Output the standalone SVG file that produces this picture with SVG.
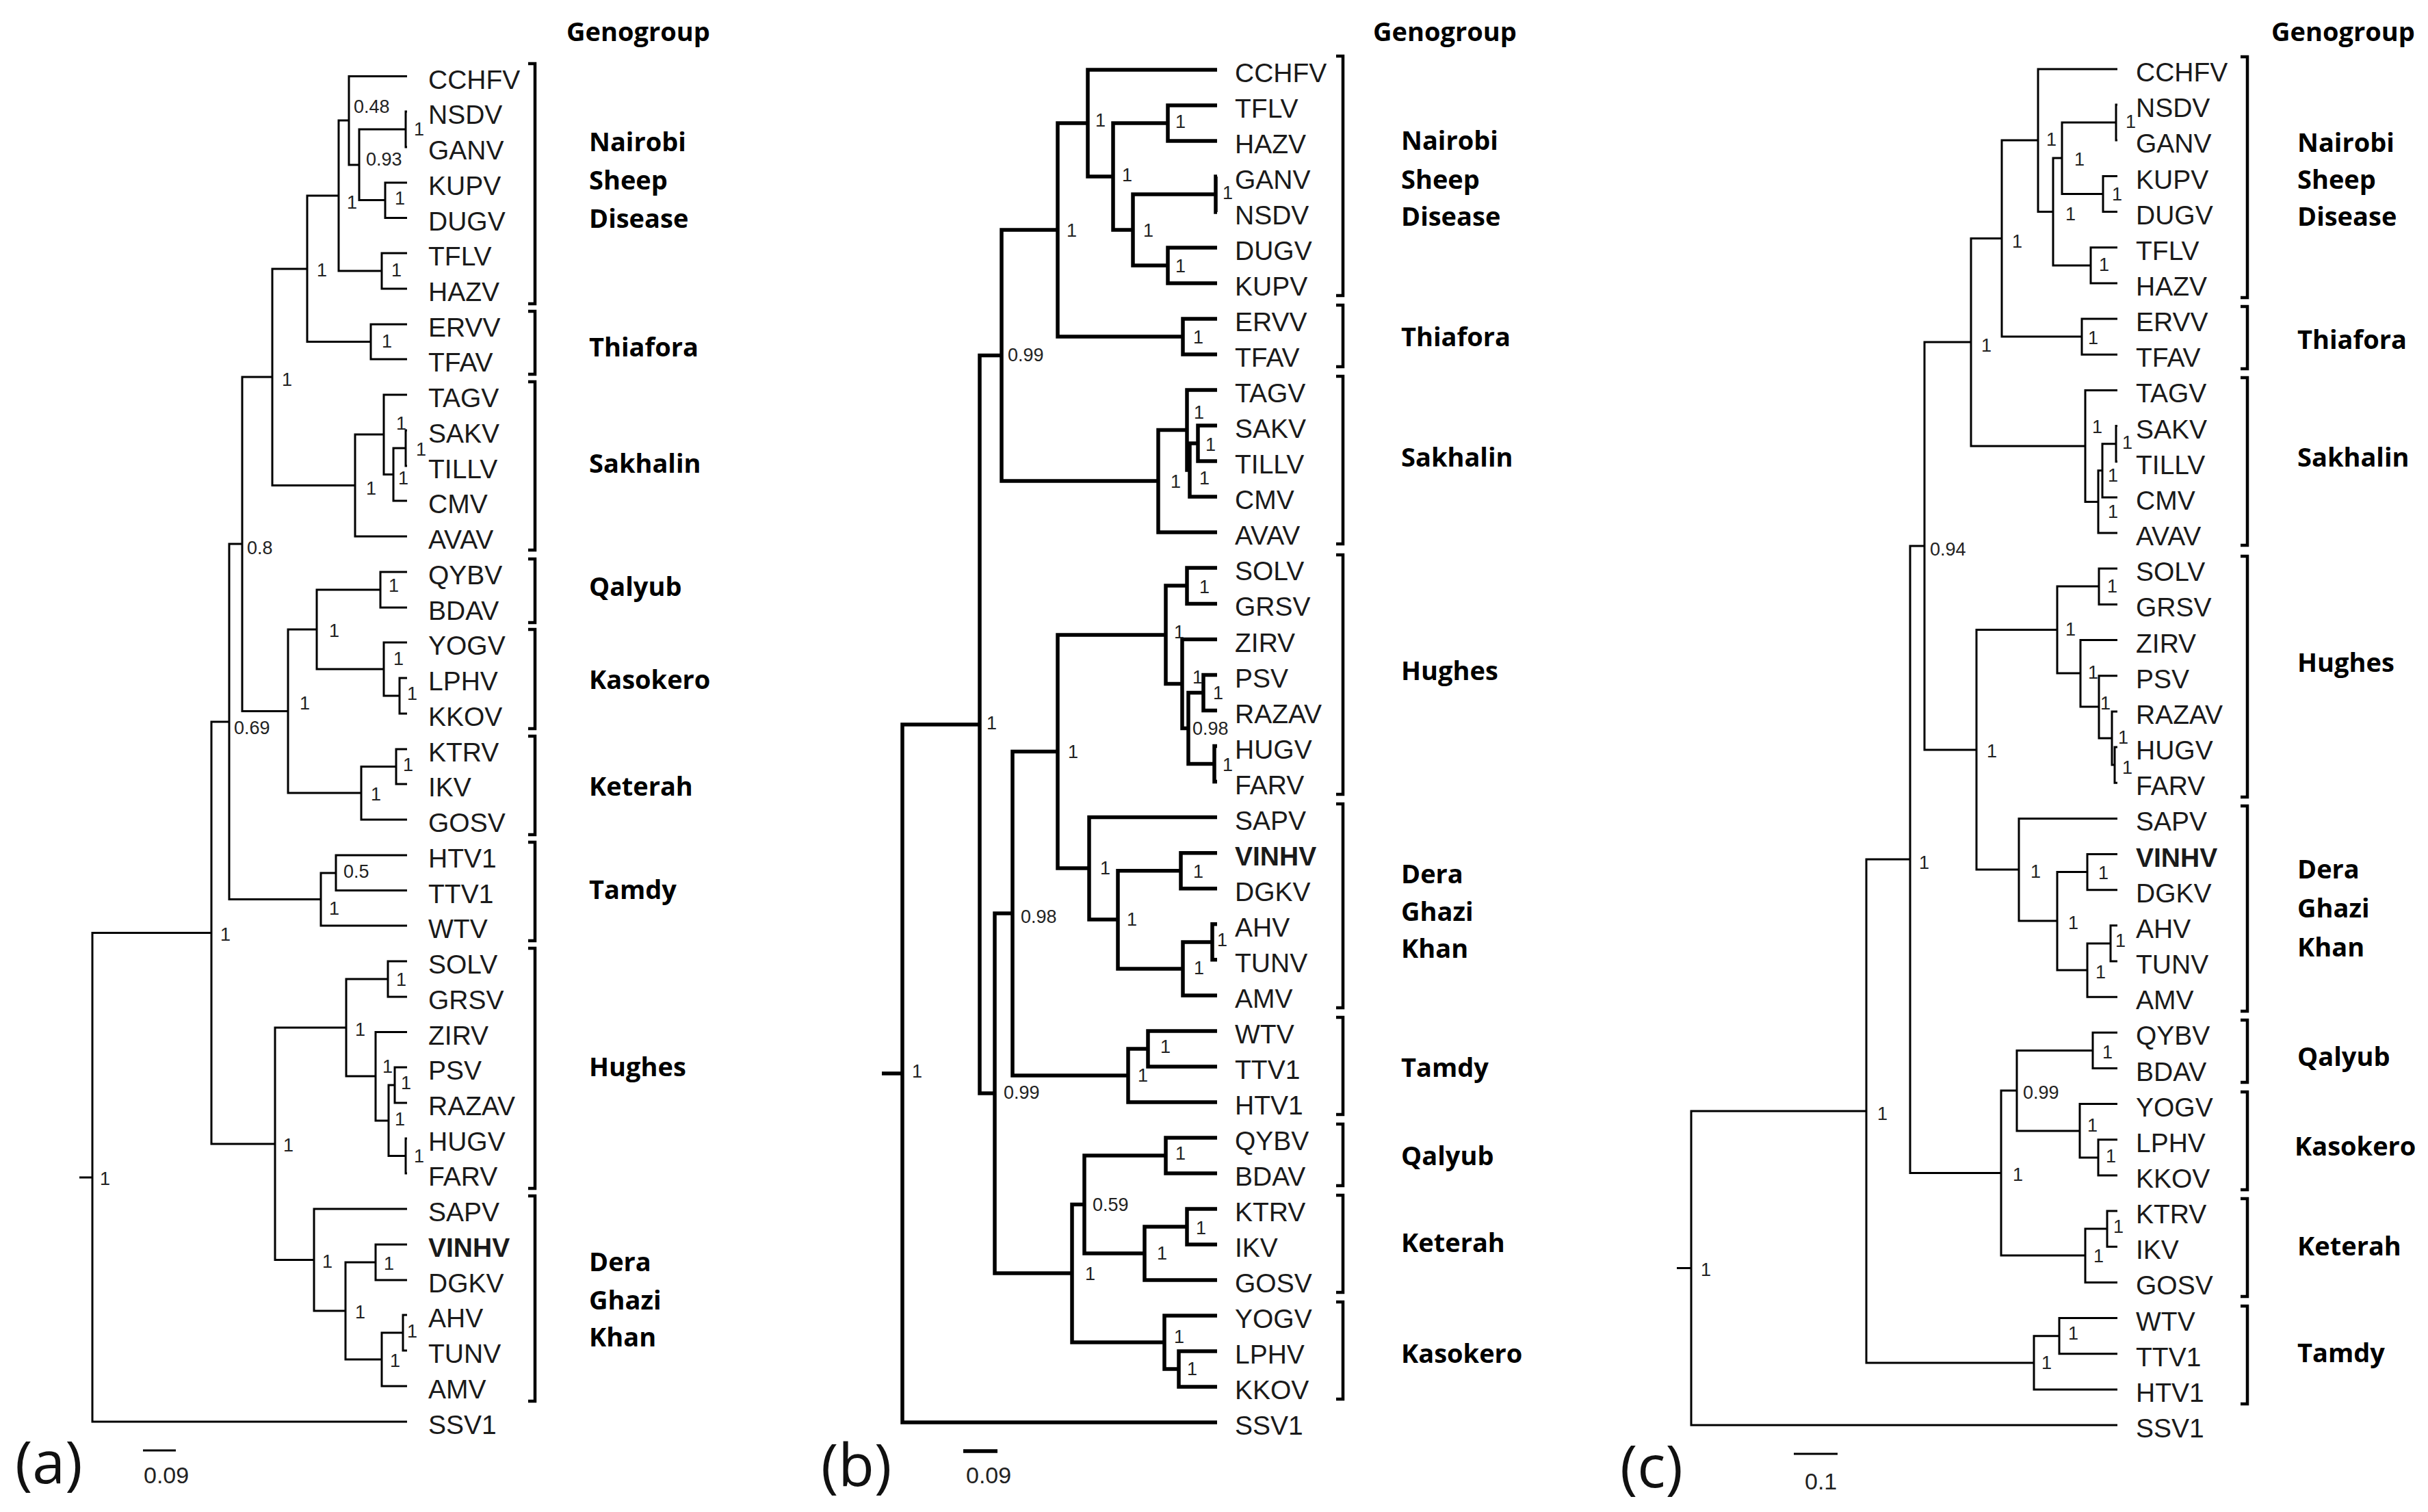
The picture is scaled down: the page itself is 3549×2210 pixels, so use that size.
<svg xmlns="http://www.w3.org/2000/svg" width="3549" height="2210" viewBox="0 0 3549 2210">
<style>
.tx{font-family:"Liberation Sans",Arial,sans-serif;font-size:39px;fill:#1a1a1a}
.bd{font-weight:bold}
.nl{font-family:"Liberation Sans",Arial,sans-serif;font-size:27px;fill:#222}
.gg{font-family:"Open Sans","Liberation Sans",sans-serif;font-weight:700;font-size:38px;fill:#000}
.pl{font-family:"Open Sans","Liberation Sans",sans-serif;font-size:86px;fill:#111}
.sc{font-family:"Liberation Sans",Arial,sans-serif;font-size:34px;fill:#222}
.br{fill:none;stroke:#000;stroke-width:4.5}
.t1{fill:none;stroke:#000;stroke-width:3}
.t2{fill:none;stroke:#000;stroke-width:5.5}
</style>
<rect width="3549" height="2210" fill="#fff"/>

<!-- ============ PANEL A ============ -->
<g id="connectors-a">
<path class="t1" d="M309,1363.5H135V2078H595M116,1721H135
M335,1055H309V1672H402
M354,795H335V1314.5H469
M398,551H354V1039.5H421
M449,393H398V709.5H519
M495,286H449V499.5H542
M510,176H495V396H558
M595,111.5H510V241H525
M593,189H525V292.5H563
M595,163H593V215H595
M595,267H563V318.5H595
M595,370H558V422H595
M595,474H542V525H595
M561,635H519V784H595
M595,577H561V693.5H575
M593,655H575V732H595
M595,629H593V681H595
M463,920H421V1159H528
M556,862H463V978H561
M595,836H556V888H595
M595,939H561V1017H584
M595,991H584V1043H595
M579,1120.5H528V1198H595
M595,1095H579V1146H595
M491,1276H469V1353H595
M595,1250H491V1301.5H595
M506,1502H402V1841.5H459
M567,1431H506V1573H549
M595,1405H567V1457H595
M595,1508.5H549V1638H568
M577,1586H568V1689.5H593
M595,1560H577V1612H595
M595,1664H593V1715H595
M595,1767H459V1916H505
M549,1845H505V1987H558
M595,1819H549V1871H595
M589,1948H558V2026H595
M595,1922H589V1974H595"/>
</g>
<g id="support-a" class="nl">
<text x="605" y="198">1</text><text x="577" y="299">1</text><text x="535" y="242">0.93</text><text x="517" y="165">0.48</text>
<text x="572" y="404">1</text><text x="507" y="305">1</text><text x="558" y="508">1</text><text x="463" y="404">1</text>
<text x="579" y="628">1</text><text x="608" y="666">1</text><text x="582" y="708">1</text><text x="535" y="723">1</text>
<text x="412" y="564">1</text><text x="568" y="865">1</text><text x="575" y="972">1</text><text x="595" y="1023">1</text>
<text x="481" y="931">1</text><text x="438" y="1037">1</text><text x="589" y="1127">1</text><text x="542" y="1170">1</text>
<text x="502" y="1283">0.5</text><text x="481" y="1337">1</text><text x="361" y="810">0.8</text><text x="342" y="1073">0.69</text>
<text x="322" y="1375">1</text><text x="579" y="1441">1</text><text x="519" y="1514">1</text><text x="559" y="1568">1</text>
<text x="586" y="1592">1</text><text x="577" y="1645">1</text><text x="605" y="1699">1</text><text x="414" y="1683">1</text>
<text x="471" y="1853">1</text><text x="561" y="1856">1</text><text x="519" y="1927">1</text><text x="595" y="1955">1</text>
<text x="570" y="1998">1</text><text x="146" y="1732">1</text>
</g>
<g id="taxa-a" class="tx">
<text x="626" y="129.5">CCHFV</text><text x="626" y="181">NSDV</text><text x="626" y="233">GANV</text><text x="626" y="285">KUPV</text>
<text x="626" y="336.5">DUGV</text><text x="626" y="388">TFLV</text><text x="626" y="440">HAZV</text><text x="626" y="492">ERVV</text>
<text x="626" y="543">TFAV</text><text x="626" y="595">TAGV</text><text x="626" y="647">SAKV</text><text x="626" y="699">TILLV</text>
<text x="626" y="750">CMV</text><text x="626" y="802">AVAV</text><text x="626" y="854">QYBV</text><text x="626" y="906">BDAV</text>
<text x="626" y="957">YOGV</text><text x="626" y="1009">LPHV</text><text x="626" y="1061">KKOV</text><text x="626" y="1113">KTRV</text>
<text x="626" y="1164">IKV</text><text x="626" y="1216">GOSV</text><text x="626" y="1268">HTV1</text><text x="626" y="1319.5">TTV1</text>
<text x="626" y="1371">WTV</text><text x="626" y="1423">SOLV</text><text x="626" y="1475">GRSV</text><text x="626" y="1526.5">ZIRV</text>
<text x="626" y="1578">PSV</text><text x="626" y="1630">RAZAV</text><text x="626" y="1682">HUGV</text><text x="626" y="1733">FARV</text>
<text x="626" y="1785">SAPV</text><text x="626" y="1837" class="bd">VINHV</text><text x="626" y="1889">DGKV</text><text x="626" y="1940">AHV</text>
<text x="626" y="1992">TUNV</text><text x="626" y="2044">AMV</text><text x="626" y="2096">SSV1</text>
</g>
<g id="groups-a">
<text class="gg" x="828" y="60">Genogroup</text>
<g id="a-nsd"><path class="br" d="M772,93H782V444H772"/><text class="gg" x="861" y="221">Nairobi</text><text class="gg" x="861" y="277">Sheep</text><text class="gg" x="861" y="333">Disease</text></g>
<g id="a-thi"><path class="br" d="M772,455H782V547H772"/><text class="gg" x="861" y="521">Thiafora</text></g>
<g id="a-sak"><path class="br" d="M772,558H782V804H772"/><text class="gg" x="861" y="691">Sakhalin</text></g>
<g id="a-qal"><path class="br" d="M772,817H782V910H772"/><text class="gg" x="861" y="871">Qalyub</text></g>
<g id="a-kas"><path class="br" d="M772,920H782V1065H772"/><text class="gg" x="861" y="1007">Kasokero</text></g>
<g id="a-ket"><path class="br" d="M772,1076H782V1220H772"/><text class="gg" x="861" y="1163">Keterah</text></g>
<g id="a-tam"><path class="br" d="M772,1231H782V1375H772"/><text class="gg" x="861" y="1314">Tamdy</text></g>
<g id="a-hug"><path class="br" d="M772,1386H782V1737H772"/><text class="gg" x="861" y="1573">Hughes</text></g>
<g id="a-dgk"><path class="br" d="M772,1748H782V2048H772"/><text class="gg" x="861" y="1858">Dera</text><text class="gg" x="861" y="1914">Ghazi</text><text class="gg" x="861" y="1968">Khan</text></g>
</g>
<g id="scale-a"><path class="t1" d="M209,2120H257"/><text class="sc" x="210" y="2168">0.09</text></g>
<text class="pl" x="22" y="2168">(a)</text>

<!-- ============ PANEL B ============ -->
<g id="connectors-b">
<path class="t2" d="M1432,1059H1319V2079H1779M1289,1569H1319
M1464,519.5H1432V1598H1454
M1546,336H1464V703H1693
M1590,180H1546V492H1729
M1779,102H1590V258H1627
M1707,180H1627V336H1656
M1779,154H1707V206H1779
M1777,284H1656V388H1707
M1779,258H1777V310H1779
M1779,362H1707V414H1779
M1779,466H1729V518H1779
M1735,628.5H1693V778H1779
M1779,570H1735V687H1739
M1751,648H1739V726H1779
M1779,622H1751V674H1779
M1480,1335H1454V1861H1567
M1546,1098.5H1480V1572H1649
M1704,928H1546V1269H1592
M1735,856H1704V999.5H1728
M1779,830H1735V882.5H1779
M1779,934.5H1728V1064.5H1737
M1759,1012.5H1737V1116.6H1775
M1779,986.5H1759V1038.5H1779
M1779,1090.6H1775V1142.6H1779
M1779,1194.6H1592V1344H1634
M1726,1272.7H1634V1416H1729
M1779,1246.7H1726V1298.7H1779
M1772,1377H1729V1455H1779
M1779,1350.7H1772V1402.8H1779
M1678,1533H1649V1611H1779
M1779,1507H1678V1559H1779
M1585,1760.5H1567V1962H1702
M1704,1689H1585V1832H1673
M1779,1663H1704V1715H1779
M1735,1793H1673V1871H1779
M1779,1767H1735V1819H1779
M1779,1923H1702V2001H1723
M1779,1975H1723V2027H1779"/>
</g>
<g id="support-b" class="nl">
<text x="1718" y="187">1</text><text x="1787" y="291">1</text><text x="1718" y="398">1</text><text x="1671" y="346">1</text>
<text x="1640" y="265">1</text><text x="1601" y="185">1</text><text x="1559" y="346">1</text><text x="1744" y="502">1</text>
<text x="1473" y="528">0.99</text><text x="1745" y="612">1</text><text x="1762" y="659">1</text><text x="1753" y="708">1</text>
<text x="1711" y="713">1</text><text x="1442" y="1066">1</text><text x="1753" y="867">1</text><text x="1716" y="933">1</text>
<text x="1743" y="999">1</text><text x="1773" y="1022">1</text><text x="1743" y="1074">0.98</text><text x="1787" y="1127">1</text>
<text x="1561" y="1108">1</text><text x="1608" y="1278">1</text><text x="1744" y="1283">1</text><text x="1647" y="1353">1</text>
<text x="1779" y="1383">1</text><text x="1745" y="1424">1</text><text x="1492" y="1349">0.98</text><text x="1696" y="1539">1</text>
<text x="1663" y="1581">1</text><text x="1467" y="1606">0.99</text><text x="1718" y="1695">1</text><text x="1597" y="1770">0.59</text>
<text x="1748" y="1804">1</text><text x="1691" y="1841">1</text><text x="1586" y="1871">1</text><text x="1716" y="1963">1</text>
<text x="1735" y="2010">1</text><text x="1333" y="1575">1</text>
</g>
<g id="taxa-b" class="tx">
<text x="1805" y="120">CCHFV</text><text x="1805" y="172">TFLV</text><text x="1805" y="224">HAZV</text><text x="1805" y="276">GANV</text>
<text x="1805" y="328">NSDV</text><text x="1805" y="380">DUGV</text><text x="1805" y="432">KUPV</text><text x="1805" y="484">ERVV</text>
<text x="1805" y="536">TFAV</text><text x="1805" y="588">TAGV</text><text x="1805" y="640">SAKV</text><text x="1805" y="692">TILLV</text>
<text x="1805" y="744">CMV</text><text x="1805" y="796">AVAV</text><text x="1805" y="848">SOLV</text><text x="1805" y="900">GRSV</text>
<text x="1805" y="952.5">ZIRV</text><text x="1805" y="1004.5">PSV</text><text x="1805" y="1056.5">RAZAV</text><text x="1805" y="1108.6">HUGV</text>
<text x="1805" y="1160.6">FARV</text><text x="1805" y="1212.6">SAPV</text><text x="1805" y="1264.7" class="bd">VINHV</text><text x="1805" y="1316.7">DGKV</text>
<text x="1805" y="1368.7">AHV</text><text x="1805" y="1420.8">TUNV</text><text x="1805" y="1472.8">AMV</text><text x="1805" y="1524.8">WTV</text>
<text x="1805" y="1576.8">TTV1</text><text x="1805" y="1628.9">HTV1</text><text x="1805" y="1680.9">QYBV</text><text x="1805" y="1732.9">BDAV</text>
<text x="1805" y="1785">KTRV</text><text x="1805" y="1837">IKV</text><text x="1805" y="1889">GOSV</text><text x="1805" y="1941">YOGV</text>
<text x="1805" y="1993">LPHV</text><text x="1805" y="2045">KKOV</text><text x="1805" y="2097">SSV1</text>
</g>
<g id="groups-b">
<text class="gg" x="2007" y="60">Genogroup</text>
<g id="b-nsd"><path class="br" d="M1953,82H1963V432H1953"/><text class="gg" x="2048" y="219">Nairobi</text><text class="gg" x="2048" y="276">Sheep</text><text class="gg" x="2048" y="330">Disease</text></g>
<g id="b-thi"><path class="br" d="M1953,446H1963V536H1953"/><text class="gg" x="2048" y="506">Thiafora</text></g>
<g id="b-sak"><path class="br" d="M1953,550H1963V795H1953"/><text class="gg" x="2048" y="682">Sakhalin</text></g>
<g id="b-hug"><path class="br" d="M1953,811H1963V1161H1953"/><text class="gg" x="2048" y="994">Hughes</text></g>
<g id="b-dgk"><path class="br" d="M1953,1175H1963V1473H1953"/><text class="gg" x="2048" y="1291">Dera</text><text class="gg" x="2048" y="1346">Ghazi</text><text class="gg" x="2048" y="1400">Khan</text></g>
<g id="b-tam"><path class="br" d="M1953,1487H1963V1629H1953"/><text class="gg" x="2048" y="1574">Tamdy</text></g>
<g id="b-qal"><path class="br" d="M1953,1643H1963V1733H1953"/><text class="gg" x="2048" y="1703">Qalyub</text></g>
<g id="b-ket"><path class="br" d="M1953,1747H1963V1889H1953"/><text class="gg" x="2048" y="1830">Keterah</text></g>
<g id="b-kas"><path class="br" d="M1953,1903H1963V2045H1953"/><text class="gg" x="2048" y="1992">Kasokero</text></g>
</g>
<g id="scale-b"><path class="t2" d="M1408,2121H1458"/><text class="sc" x="1412" y="2168">0.09</text></g>
<text class="pl" x="1200" y="2172">(b)</text>

<!-- ============ PANEL C ============ -->
<g id="connectors-c">
<path class="t1" d="M2728,1624H2472V2083H3095M2451,1853.5H2472
M2792,1256H2728V1992H2973
M2813,798H2792V1714.6H2925
M2881,500H2813V1096H2889
M2926,348.5H2881V652H3048
M2979,205H2926V492H3043
M3095,101H2979V309.5H3001
M3014,231H3001V388H3056
M3093,179H3014V283.5H3074
M3095,153H3093V205H3095
M3095,257.5H3074V309.6H3095
M3095,361.8H3056V414H3095
M3095,466H3043V518.3H3095
M3095,570.4H3048V733.5H3067
M3073,687.8H3067V779.1H3095
M3093,648.7H3073V727H3095
M3095,622.6H3093V674.8H3095
M3007,920.5H2889V1271H2951
M3068,857H3007V984H3041
M3095,831H3068V883.4H3095
M3095,935.6H3041V1033H3068
M3095,987.7H3068V1079H3087
M3095,1040H3087V1118H3091
M3095,1092H3091V1144.2H3095
M3095,1196.4H2951V1346H3007
M3051,1274.6H3007V1418H3051
M3095,1248.5H3051V1300.7H3095
M3085,1379H3051V1457.2H3095
M3095,1352.8H3085V1405H3095
M2948,1594H2925V1835H3048
M3059,1535.4H2948V1653H3040
M3095,1509.3H3059V1561.5H3095
M3095,1613.6H3040V1692H3067
M3095,1665.8H3067V1718H3095
M3080,1796H3048V1874.4H3095
M3095,1770.1H3080V1822.3H3095
M3010,1952.7H2973V2030.9H3095
M3095,1926.6H3010V1978.8H3095"/>
</g>
<g id="support-c" class="nl">
<text x="3107" y="187">1</text><text x="3087" y="293">1</text><text x="3032" y="242">1</text><text x="3068" y="396">1</text>
<text x="3019" y="322">1</text><text x="2991" y="213">1</text><text x="2941" y="362">1</text><text x="3052" y="503">1</text>
<text x="3058" y="633">1</text><text x="3102" y="656">1</text><text x="3081" y="704">1</text><text x="3081" y="757">1</text>
<text x="2896" y="514">1</text><text x="2821" y="812">0.94</text><text x="3080" y="866">1</text><text x="3019" y="929">1</text>
<text x="3052" y="992">1</text><text x="3070" y="1037">1</text><text x="3096" y="1087">1</text><text x="3102" y="1131">1</text>
<text x="2904" y="1107">1</text><text x="2968" y="1283">1</text><text x="3067" y="1285">1</text><text x="3023" y="1358">1</text>
<text x="3092" y="1384">1</text><text x="3063" y="1430">1</text><text x="2805" y="1270">1</text><text x="3073" y="1547">1</text>
<text x="2957" y="1606">0.99</text><text x="3051" y="1654">1</text><text x="3078" y="1699">1</text><text x="2942" y="1726">1</text>
<text x="3060" y="1845">1</text><text x="3089" y="1802">1</text><text x="3023" y="1958">1</text><text x="2984" y="2001">1</text>
<text x="2744" y="1637">1</text><text x="2486" y="1865">1</text>
</g>
<g id="taxa-c" class="tx">
<text x="3122" y="119">CCHFV</text><text x="3122" y="171">NSDV</text><text x="3122" y="223">GANV</text><text x="3122" y="275.5">KUPV</text>
<text x="3122" y="327.6">DUGV</text><text x="3122" y="379.8">TFLV</text><text x="3122" y="432">HAZV</text><text x="3122" y="484">ERVV</text>
<text x="3122" y="536.3">TFAV</text><text x="3122" y="588.4">TAGV</text><text x="3122" y="640.6">SAKV</text><text x="3122" y="692.8">TILLV</text>
<text x="3122" y="745">CMV</text><text x="3122" y="797">AVAV</text><text x="3122" y="849">SOLV</text><text x="3122" y="901.4">GRSV</text>
<text x="3122" y="953.6">ZIRV</text><text x="3122" y="1005.7">PSV</text><text x="3122" y="1058">RAZAV</text><text x="3122" y="1110">HUGV</text>
<text x="3122" y="1162">FARV</text><text x="3122" y="1214.4">SAPV</text><text x="3122" y="1266.5" class="bd">VINHV</text><text x="3122" y="1318.7">DGKV</text>
<text x="3122" y="1370.8">AHV</text><text x="3122" y="1423">TUNV</text><text x="3122" y="1475">AMV</text><text x="3122" y="1527">QYBV</text>
<text x="3122" y="1579.5">BDAV</text><text x="3122" y="1631.6">YOGV</text><text x="3122" y="1683.8">LPHV</text><text x="3122" y="1736">KKOV</text>
<text x="3122" y="1788">KTRV</text><text x="3122" y="1840">IKV</text><text x="3122" y="1892.4">GOSV</text><text x="3122" y="1944.6">WTV</text>
<text x="3122" y="1996.8">TTV1</text><text x="3122" y="2049">HTV1</text><text x="3122" y="2101">SSV1</text>
</g>
<g id="groups-c">
<text class="gg" x="3320" y="60">Genogroup</text>
<g id="c-nsd"><path class="br" d="M3275,83H3285V435H3275"/><text class="gg" x="3358" y="222">Nairobi</text><text class="gg" x="3358" y="276">Sheep</text><text class="gg" x="3358" y="330">Disease</text></g>
<g id="c-thi"><path class="br" d="M3275,448H3285V539H3275"/><text class="gg" x="3358" y="510">Thiafora</text></g>
<g id="c-sak"><path class="br" d="M3275,552H3285V797H3275"/><text class="gg" x="3358" y="682">Sakhalin</text></g>
<g id="c-hug"><path class="br" d="M3275,813H3285V1165H3275"/><text class="gg" x="3358" y="982">Hughes</text></g>
<g id="c-dgk"><path class="br" d="M3275,1178H3285V1478H3275"/><text class="gg" x="3358" y="1284">Dera</text><text class="gg" x="3358" y="1341">Ghazi</text><text class="gg" x="3358" y="1398">Khan</text></g>
<g id="c-qal"><path class="br" d="M3275,1491H3285V1582H3275"/><text class="gg" x="3358" y="1558">Qalyub</text></g>
<g id="c-kas"><path class="br" d="M3275,1596H3285V1739H3275"/><text class="gg" x="3354" y="1689">Kasokero</text></g>
<g id="c-ket"><path class="br" d="M3275,1752H3285V1895H3275"/><text class="gg" x="3358" y="1835">Keterah</text></g>
<g id="c-tam"><path class="br" d="M3275,1909H3285V2052H3275"/><text class="gg" x="3358" y="1991">Tamdy</text></g>
</g>
<g id="scale-c"><path class="t1" d="M2622,2125H2686"/><text class="sc" x="2638" y="2177">0.1</text></g>
<text class="pl" x="2368" y="2174">(c)</text>
</svg>
